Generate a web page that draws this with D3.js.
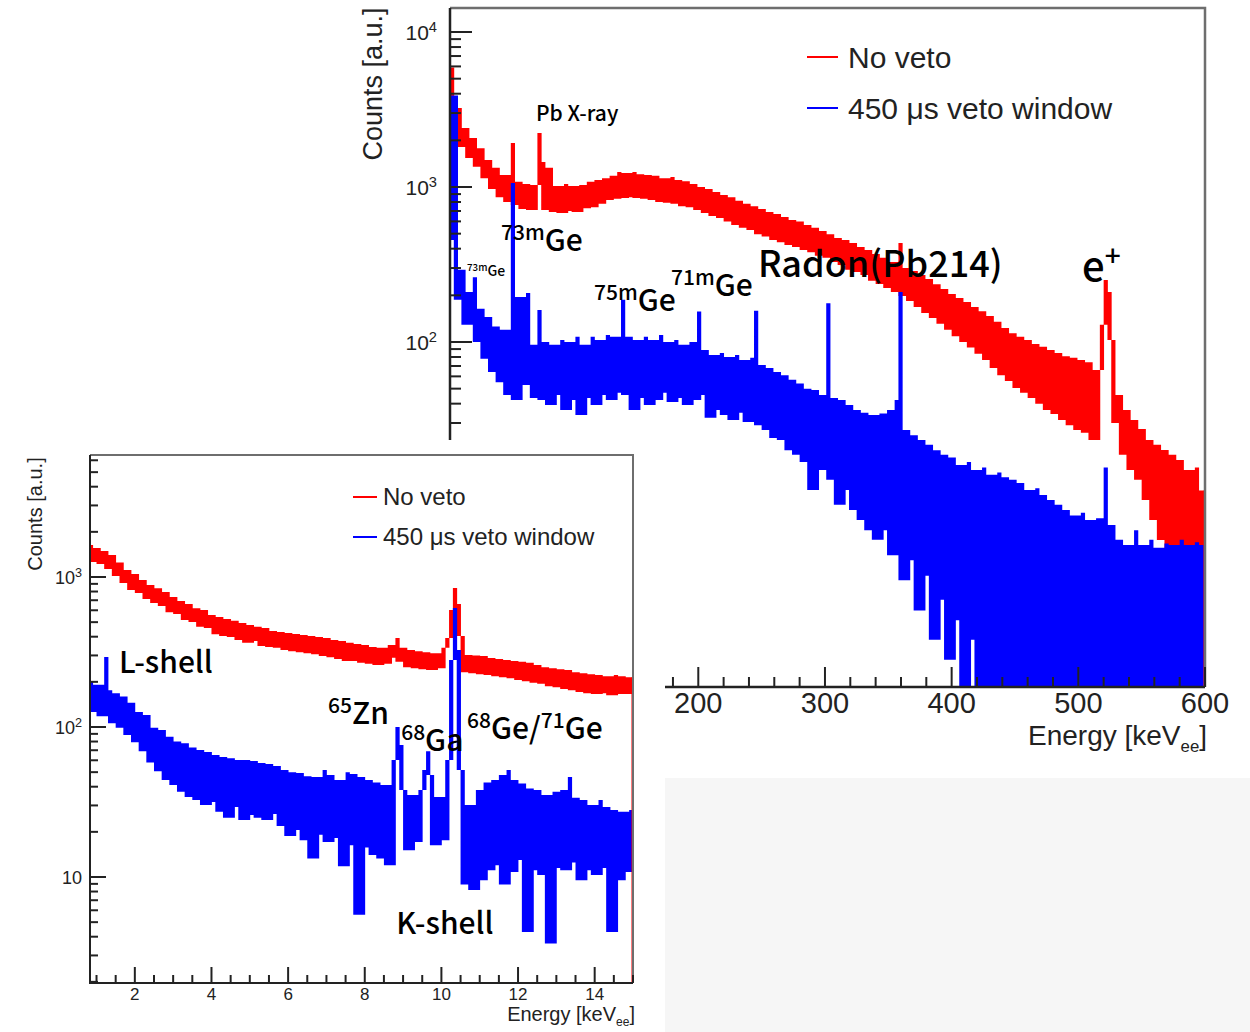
<!DOCTYPE html>
<html>
<head>
<meta charset="utf-8">
<script src="https://cdn.jsdelivr.net/npm/d3@7"></script>
<style>
  body { margin: 0; background: #fff; }
  svg text { font-family: "Liberation Sans", Arial, sans-serif; fill: #222; }
  svg text.note { font-family: "Noto Sans CJK SC", "Noto Sans", sans-serif; font-weight: 500; fill: #000; }
</style>
</head>
<body>
<svg id="chart" width="1250" height="1032"></svg>
<script>
// ---- main spectrum (0-600 keV), 3 keV bins starting at 4 keV ----
const mainBinStart = 4, mainBinWidth = 3;
const mainNoVeto = [
  5900, 2700, 3230, 1810, 2400, 1540, 2070, 1350, 1780, 1140,
  1494, 970, 1330, 860, 1196, 800, 1920, 766, 1080, 720,
  1045, 711, 1030, 2230, 1450, 711, 1330, 690, 1015, 680,
  1045, 700, 1015, 690, 1030, 730, 1080, 740, 1110, 780,
  1140, 825, 1180, 840, 1250, 850, 1230, 860, 1250, 850,
  1210, 840, 1196, 825, 1180, 800, 1140, 790, 1160, 780,
  1110, 750, 1090, 740, 1045, 711, 1000, 680, 970, 650,
  930, 630, 888, 600, 860, 569, 815, 545, 780, 528,
  750, 495, 720, 480, 690, 455, 670, 440, 640, 423,
  612, 410, 600, 392, 569, 380, 545, 360, 520, 350,
  495, 328, 468, 314, 455, 292, 435, 283, 410, 271,
  392, 248, 370, 237, 350, 223, 328, 210, 435, 198,
  300, 184, 287, 168, 271, 154, 255, 143, 236, 131,
  220, 120, 204, 109, 192, 100, 181, 92, 168, 84,
  158, 76.5, 147, 68, 135, 61, 123, 56, 114, 50.5,
  108, 47, 103, 43.5, 97, 40, 93, 36.4, 88.8, 34.3,
  85, 31.4, 81, 29, 79, 27, 76.5, 26, 74, 23.3,
  66, 129, 251, 210, 103, 30, 45.5, 18.7, 36.4, 14.9,
  31.4, 12.9, 27.5, 9.57, 23.3, 7.1, 21.7, 5.28, 20.1, 3.92,
  18.7, 2.17, 17.3, 1.2, 14.9, 0, 15.5, 0, 11
];
const mainVeto = [
  455, 3900, 187, 292, 129, 210, 262, 100, 164, 78,
  145, 64, 126, 55, 120, 45.5, 1060, 42.3, 195, 52.8,
  207, 96, 43.5, 161, 42.3, 100, 39.2, 96, 45.5, 103,
  36.4, 100, 42.3, 108, 33.8, 96, 43.5, 108, 39.2, 103,
  45.5, 111, 42.3, 108, 47, 187, 45.5, 108, 36.4, 103,
  43.5, 108, 39.2, 103, 42.3, 111, 47, 100, 41, 103,
  43.5, 96, 39.2, 100, 42.3, 157, 45.5, 88.8, 32.5, 82.4,
  36.4, 85, 33.8, 80, 31.4, 82.4, 35, 76.5, 30.5, 79,
  159, 29, 71, 27, 68, 24, 64, 23.3, 61, 20,
  57, 18.7, 54, 16.8, 50, 11.1, 49, 14.9, 45.5, 178,
  12.9, 43.5, 8.9, 42.3, 11.1, 39.2, 8.25, 36.4, 7.1, 35,
  6.1, 33.8, 5.3, 34.5, 6.1, 36.4, 4.2, 42.3, 210, 2.9,
  27, 3.9, 25, 1.85, 23.3, 3.1, 21.7, 1.2, 20, 2.17,
  18.7, 0.89, 18, 1.6, 16.1, 0, 16.8, 1.2, 14.9, 0,
  15.5, 0, 13.9, 0, 14.4, 0, 13.4, 0, 12.9, 0,
  12.3, 0, 11.1, 0, 11.4, 0, 10.3, 0, 9.57, 0,
  8.9, 0, 8.25, 0, 7.6, 0, 7.9, 0, 7.1, 0,
  7.3, 0, 15.5, 0, 6.6, 0, 5.3, 0, 4.9, 0,
  6.1, 0, 4.9, 0, 5.3, 0, 4.7, 0, 5.0, 0,
  4.9, 0, 5.3, 0, 4.9, 0, 5.1, 0, 4.9
];

// ---- inset spectrum (low energy), 0.1 keV bins starting at 0.8 keV ----
const insetBinStart = 0.8, insetBinWidth = 0.1;
const insetNoVeto = [
  1634, 1258, 1560, 1220, 1490, 1130, 1402, 1015, 1250, 912,
  1113, 819, 1047, 782, 955, 714, 884, 670, 840, 640,
  794, 583, 736, 567, 692, 517, 660, 502, 620, 466,
  603, 457, 558, 416, 542, 404, 525, 398, 510, 380,
  494, 364, 479, 375, 466, 347, 457, 341, 437, 337,
  430, 326, 423, 320, 417, 315, 411, 310, 404, 305,
  398, 297, 392, 292, 380, 284, 375, 275, 364, 275,
  358, 268, 352, 264, 341, 259, 337, 264, 352, 290,
  392, 272, 337, 250, 326, 246, 320, 243, 315, 240,
  310, 246, 337, 392, 603, 845, 660, 404, 232, 302,
  228, 300, 225, 297, 222, 288, 218, 284, 215, 280,
  211, 275, 206, 272, 202, 268, 197, 259, 194, 250,
  187, 246, 184, 243, 179, 240, 176, 232, 171, 228,
  168, 225, 166, 222, 168, 218, 163, 222, 166, 218,
  166, 215
];
const insetVeto = [
  200, 126, 191, 118, 293, 176, 106, 168, 99, 160,
  88.4, 145, 79, 126, 69, 120, 58, 99, 50.7, 95.5,
  44.3, 86, 41.1, 80, 37, 78, 34.2, 73, 32.6, 70.2,
  30.2, 68, 31.6, 65.1, 27.2, 63, 24.8, 62, 29.3, 60.3,
  24, 60.3, 25.9, 59.4, 24.8, 57.5, 24, 56.6, 26.3, 54.9,
  21.9, 51.7, 18.8, 50, 20.6, 49.3, 17.6, 47, 13.3, 46.4,
  19.1, 51.7, 17.1, 47.9, 18.2, 44.3, 11.8, 50, 16.3, 48.6,
  5.6, 46.4, 15.7, 44.3, 14, 42.7, 13.3, 41.1, 12, 60.3,
  100, 75.9, 38, 15.1, 35.2, 17.1, 38, 51.7, 69, 47.9,
  16.3, 34.2, 17.6, 60.3, 280, 621, 326, 51.7, 8.9, 30.2,
  8.2, 38, 9.5, 42.7, 11.1, 44.3, 12, 47.9, 8.9, 51.7,
  10.8, 44.3, 13, 42, 4.3, 38.9, 11.1, 38, 10.3, 35.2,
  3.6, 37, 11.5, 38, 11.1, 46.4, 12.5, 33.8, 9.5, 32.6,
  11.1, 30.2, 10.3, 32.6, 11.5, 29.3, 4.3, 28, 9.5, 27.2,
  10.8, 28
];

const legendLabels = ["No veto", "450 \u03bcs veto window"];

// peak labels: text ({...} = superscript) and anchor in [energy, counts]
const mainLabels = ["Pb X-ray", "{73m}Ge", "{73m}Ge", "{75m}Ge", "{71m}Ge", "Radon(Pb214)", "e{+}"];
const mainLabelAt = [[71.9, 2666], [44.3, 386], [17.4, 267], [117.7, 158], [178.5, 198], [247.1, 263], [502.9, 248]];
const insetLabels = ["L-shell", "{65}Zn", "{68}Ga", "{68}Ge/{71}Ge", "K-shell"];
const insetLabelAt = [[1.59, 229], [7.04, 104.7], [8.95, 69.2], [10.67, 83.2], [8.82, 4.17]];

const RED = "#ff0000", BLUE = "#0000ff";

const svg = d3.select("#chart");

const mainX = d3.scaleLinear().domain([4, 600]).range([450, 1205]);
const mainY = d3.scaleLog().domain([0.594, 14290]).range([687, 8]).clamp(true);
const insetX = d3.scaleLinear().domain([0.83, 15]).range([90, 633]);
const insetY = d3.scaleLog().domain([1.965, 6506]).range([983, 455]).clamp(true);

// one column per bin: from its content to the lower of its neighbours,
// which is how a dense histogram line fills in
function columnsPath(values, start, width, x, y) {
  const floor = y.domain()[0];
  const yv = v => y(Math.max(v, floor));
  let d = "";
  values.forEach((v, i) => {
    const nb = [];
    if (i > 0) nb.push(values[i - 1]);
    if (i < values.length - 1) nb.push(values[i + 1]);
    const other = d3.min(nb);
    const xa = x(start + width * i), xb = x(start + width * (i + 1)) + 0.4;
    let ya = yv(Math.max(v, other)), yb = yv(Math.min(v, other));
    if (yb - ya < 2) { ya -= 1; yb += 1; }
    d += `M${xa},${ya}H${xb}V${yb}H${xa}Z`;
  });
  return d;
}

function richText(g, str, x, y, size, cls) {
  const t = g.append("text").attr("x", x).attr("y", y).attr("font-size", size);
  if (cls) t.attr("class", cls);
  let raised = false;
  str.split(/(\{[^}]*\})/).filter(s => s).forEach(s => {
    const sup = s[0] === "{";
    const ts = t.append("tspan").text(sup ? s.slice(1, -1) : s);
    if (sup) {
      ts.attr("font-size", size * 0.7).attr("dy", raised ? 0 : -size * 0.38);
      raised = true;
    } else {
      ts.attr("dy", raised ? size * 0.38 : 0);
      raised = false;
    }
  });
  return t;
}

function powLabel(t) {
  const k = Math.round(Math.log10(t));
  if (k === 0) return "1";
  if (k === 1) return "10";
  return "10{" + k + "}";
}
const isDecade = t => Math.abs(Math.log10(t) - Math.round(Math.log10(t))) < 1e-9;

function drawPanel(g, x, y, series, opt) {
  const [x0, x1] = x.range(), [y0, y1] = y.range(); // y0 bottom, y1 top
  const clipId = "clip-" + opt.id;
  svg.append("clipPath").attr("id", clipId)
    .append("rect").attr("x", x0).attr("y", y1).attr("width", x1 - x0 + 1).attr("height", y0 - y1);

  const data = g.append("g").attr("clip-path", "url(#" + clipId + ")");
  series.forEach(s => {
    data.append("path")
      .attr("d", columnsPath(s.values, opt.start, opt.width, x, y))
      .attr("fill", s.color);
  });
  // histogram drops to zero at its upper edge
  series.filter(s => s.closeRight).forEach(s => {
    const lastEdge = Math.min(opt.start + opt.width * s.values.length, x.domain()[1]);
    const lastV = Math.max(s.values[s.values.length - 1], y.domain()[0]);
    data.append("line")
      .attr("x1", x(lastEdge) - 0.5).attr("x2", x(lastEdge) - 0.5)
      .attr("y1", y(lastV)).attr("y2", y0)
      .attr("stroke", s.color).attr("stroke-width", 2);
  });

  // frame
  g.append("path").attr("d", `M${x0},${y1}H${x1}V${y0}`)
    .attr("fill", "none").attr("stroke", "#6e6e6e").attr("stroke-width", opt.frameW);
  g.append("path").attr("d", `M${x0},${y1}V${y0}H${x1}`)
    .attr("fill", "none").attr("stroke", "#222").attr("stroke-width", opt.frameW);

  // y ticks (log, inward)
  y.ticks().forEach(t => {
    const major = isDecade(t);
    g.append("line")
      .attr("x1", x0).attr("x2", x0 + (major ? opt.yMajor : opt.yMajor / 2))
      .attr("y1", y(t)).attr("y2", y(t))
      .attr("stroke", "#222").attr("stroke-width", 2);
    if (major && t >= opt.yLabelMin) {
      richText(g, powLabel(t), opt.yLabelX, y(t) + opt.yLabelSize * 0.38, opt.yLabelSize)
        .attr("text-anchor", "end");
    }
  });

  // x ticks (inward)
  opt.xTicks.forEach(t => {
    const major = opt.isMajorX(t);
    g.append("line")
      .attr("x1", x(t)).attr("x2", x(t))
      .attr("y1", y0).attr("y2", y0 - (major ? opt.xMajor : opt.xMajor / 2))
      .attr("stroke", "#222").attr("stroke-width", 2);
    if (major && t >= opt.xLabelMin) {
      g.append("text").attr("x", x(t)).attr("y", y0 + opt.xLabelDy)
        .attr("text-anchor", "middle").attr("font-size", opt.xLabelSize).text(t);
    }
  });

  // axis titles
  const xt = g.append("text").attr("x", x1 + 2).attr("y", y0 + opt.xTitleDy)
    .attr("text-anchor", "end").attr("font-size", opt.xTitleSize);
  xt.append("tspan").text("Energy [keV");
  xt.append("tspan").attr("font-size", opt.xTitleSize * 0.6).attr("dy", opt.xTitleSize * 0.25).text("ee");
  xt.append("tspan").attr("dy", -opt.xTitleSize * 0.25).text("]");

  g.append("text")
    .attr("transform", `translate(${opt.yTitleX},${opt.yTitleY}) rotate(-90)`)
    .attr("text-anchor", "middle").attr("font-size", opt.yTitleSize)
    .text("Counts [a.u.]");

  // legend
  const lg = g.append("g");
  [RED, BLUE].forEach((c, i) => {
    const ly = opt.legY + i * opt.legStep;
    lg.append("line").attr("x1", opt.legX).attr("x2", opt.legX + opt.legLine)
      .attr("y1", ly).attr("y2", ly).attr("stroke", c).attr("stroke-width", 2);
    lg.append("text").attr("x", opt.legX + opt.legLine + opt.legGap)
      .attr("y", ly + opt.legSize * 0.35).attr("font-size", opt.legSize)
      .text(legendLabels[i]);
  });
}

// ---------- main panel ----------
const gMain = svg.append("g");
drawPanel(gMain, mainX, mainY, [
  { values: mainNoVeto, color: RED, closeRight: true },
  { values: mainVeto, color: BLUE }
], {
  id: "main", start: mainBinStart, width: mainBinWidth, frameW: 2.5,
  yMajor: 22, xMajor: 20,
  yLabelX: 437, yLabelSize: 21, yLabelMin: 100,   // lower labels sit under the inset
  xTicks: d3.range(20, 601, 20), isMajorX: t => t % 100 === 0, xLabelMin: 200,
  xLabelDy: 26, xLabelSize: 29,
  xTitleDy: 58, xTitleSize: 28,
  yTitleX: 382, yTitleY: 84, yTitleSize: 27,
  legX: 807, legY: 57, legStep: 51, legLine: 31, legGap: 10, legSize: 30
});
const mainSizes = [21, 30, 14, 30, 30, 36, 40];
mainLabels.forEach((s, i) => {
  richText(gMain, s, mainX(mainLabelAt[i][0]), mainY(mainLabelAt[i][1]), mainSizes[i], "note");
});

// ---------- inset panel (pasted over the main one) ----------
svg.append("rect").attr("x", 0).attr("y", 440).attr("width", 665).attr("height", 592).attr("fill", "#fff");
svg.append("rect").attr("x", 665).attr("y", 778).attr("width", 585).attr("height", 254).attr("fill", "#f6f6f6");

const gInset = svg.append("g");
drawPanel(gInset, insetX, insetY, [
  { values: insetNoVeto, color: RED, closeRight: true },
  { values: insetVeto, color: BLUE }
], {
  id: "inset", start: insetBinStart, width: insetBinWidth, frameW: 2,
  yMajor: 16, xMajor: 16,
  yLabelX: 82, yLabelSize: 18, yLabelMin: 10,
  xTicks: d3.range(1, 15.01, 0.5), isMajorX: t => t % 2 === 0, xLabelMin: 2,
  xLabelDy: 17, xLabelSize: 17,
  xTitleDy: 38, xTitleSize: 20,
  yTitleX: 42, yTitleY: 514, yTitleSize: 20,
  legX: 353, legY: 497, legStep: 40, legLine: 24, legGap: 6, legSize: 24
});
const insetSizes = [30, 30, 30, 30, 30];
insetLabels.forEach((s, i) => {
  richText(gInset, s, insetX(insetLabelAt[i][0]), insetY(insetLabelAt[i][1]), insetSizes[i], "note");
});
</script>
</body>
</html>
